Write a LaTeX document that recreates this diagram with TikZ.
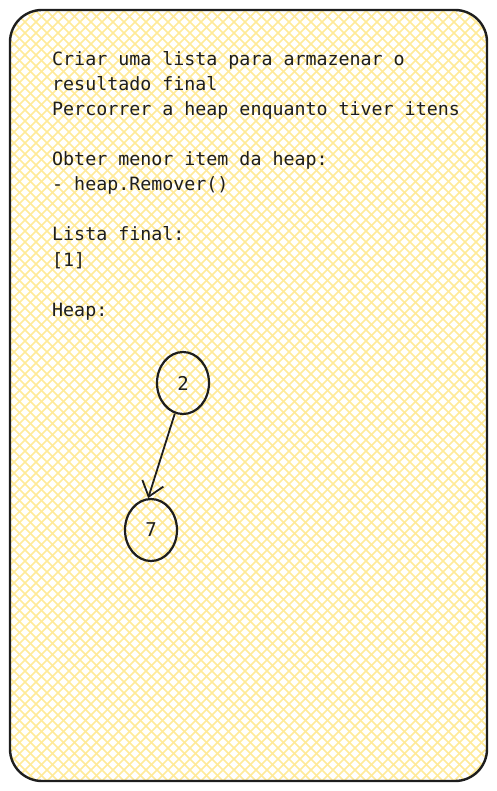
\documentclass[tikz,border=0pt]{standalone}
\usepackage{fontspec}
\setmonofont{DejaVu Sans Mono}
\usetikzlibrary{shapes.geometric, arrows.meta, positioning}
\definecolor{hatch}{HTML}{FFEA99}
\definecolor{ink}{HTML}{1E1E1E}

\begin{document}
\begin{tikzpicture}[
            x=1pt, y=-1pt,
            font=\ttfamily,
            % Styles
            card/.style={draw=ink, line width=2.4pt, rounded corners=32pt},
            heapnode/.style={ellipse, draw=ink, line width=2.2pt, minimum width=52pt, minimum height=62pt, inner sep=0pt, font=\ttfamily\fontsize{19}{19}\selectfont, text=ink},
            steps/.style={anchor=base west, align=left, inner sep=0pt, text=ink, font=\ttfamily\fontsize{18.3}{25}\selectfont},
            edge/.style={draw=ink, line width=1.8pt, -{Straight Barb[length=14pt, width=22pt, line width=1.8pt]}}
        ]
        \useasboundingbox (0,0) rectangle (497,791);

        % --- HATCHED BACKGROUND ---
        \begin{scope}
            \clip[rounded corners=32pt] (10,10) rectangle (487,781);
            \foreach \c in {-800,-789,...,1300} {
                \draw[hatch, line width=1.6pt] (\c,0) -- ++(800,800);
                \draw[hatch, line width=1.6pt] (\c,0) -- ++(-800,800);
            }
        \end{scope}
        \draw[card] (10,10) rectangle (487,781);

        % --- TEXT (anchored on its last line) ---
        \node (steps) [steps] at (52,316) {Criar uma lista para armazenar o\\
            resultado final\\
            Percorrer a heap enquanto tiver itens\\[25pt]
            Obter menor item da heap:\\
            - heap.Remover()\\[25pt]
            Lista final:\\
            {[1]}\\[25pt]
            Heap:};

        % --- HEAP ---
        \node (two) [heapnode] at (183,383) {2};
        \node (seven) [heapnode] at (151,530) {7};
        \draw [edge] (two.255) -- (seven.95);

\end{tikzpicture}
\end{document}
